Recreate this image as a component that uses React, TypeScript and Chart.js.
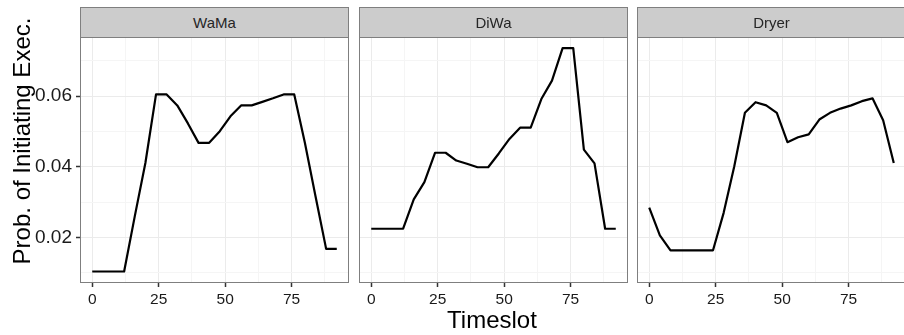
import React, { useEffect, useRef } from "react";
import { Chart, registerables } from "chart.js";

Chart.register(...registerables);

// ---- data ----
const timeslots = [0, 4, 8, 12, 16, 20, 24, 28, 32, 36, 40, 44, 48, 52, 56, 60, 64, 68, 72, 76, 80, 84, 88, 92];
const facetNames = ["WaMa", "DiWa", "Dryer"];
const wamaValues = [0.0104, 0.0104, 0.0104, 0.0104, 0.026, 0.0411, 0.0605, 0.0605, 0.0574, 0.0523, 0.0468, 0.0468, 0.0501, 0.0543, 0.0574, 0.0574, 0.0584, 0.0594, 0.0605, 0.0605, 0.0468, 0.0317, 0.0168, 0.0168];
const diwaValues = [0.0225, 0.0225, 0.0225, 0.0225, 0.0308, 0.0357, 0.044, 0.044, 0.0418, 0.0409, 0.0399, 0.0399, 0.0438, 0.0479, 0.0511, 0.0511, 0.0592, 0.0644, 0.0736, 0.0736, 0.0449, 0.041, 0.0225, 0.0225];
const dryerValues = [0.0285, 0.0206, 0.0164, 0.0164, 0.0164, 0.0164, 0.0164, 0.027, 0.0402, 0.0553, 0.0583, 0.0574, 0.0553, 0.047, 0.0484, 0.0492, 0.0534, 0.0553, 0.0565, 0.0574, 0.0586, 0.0594, 0.0532, 0.0411];
const xMajorTicks = [0, 25, 50, 75];
const xMinorTicks = [12.5, 37.5, 62.5, 87.5];
const yMajorTicks = [0.02, 0.04, 0.06];
const yMinorTicks = [0.01, 0.03, 0.05, 0.07];
const yTickLabels = ["0.02", "0.04", "0.06"];
const xTitle = "Timeslot";
const yTitle = "Prob. of Initiating Exec.";

const X_MIN = -4.6;
const X_MAX = 96.6;
const Y_MIN = 0.00715;
const Y_MAX = 0.07675;

const FONT = '"Liberation Sans", Arial, Helvetica, sans-serif';
const BORDER = "#7F7F7F";

const near = (a: number, list: number[]) => list.some((v) => Math.abs(v - a) < 1e-9);

const panelBox = {
  id: "panelBox",
  afterDraw(chart: any) {
    const { ctx, chartArea } = chart;
    ctx.save();
    ctx.strokeStyle = BORDER;
    ctx.lineWidth = 1;
    ctx.strokeRect(chartArea.left + 0.5, chartArea.top + 0.5, chartArea.right - chartArea.left - 1, chartArea.bottom - chartArea.top - 1);
    ctx.restore();
  },
};

function Panel(props: { left: number; width: number; values: number[]; showY: boolean; padLeft: number; padRight: number }) {
  const ref = useRef<HTMLCanvasElement>(null);
  useEffect(() => {
    const { values, showY, padLeft, padRight } = props;
    const chart = new Chart(ref.current!, {
      type: "line",
      data: {
        datasets: [
          {
            data: timeslots.map((t, i) => ({ x: t, y: values[i] })),
            borderColor: "#000000",
            borderWidth: 2.2,
            pointRadius: 0,
            tension: 0,
            borderJoinStyle: "round",
            borderCapStyle: "butt",
            fill: false,
          },
        ],
      },
      options: {
        animation: false,
        responsive: false,
        maintainAspectRatio: false,
        events: [],
        layout: { padding: { left: padLeft, right: padRight, top: 37, bottom: 0 } },
        plugins: { legend: { display: false }, tooltip: { enabled: false }, title: { display: false } },
        scales: {
          x: {
            type: "linear",
            min: X_MIN,
            max: X_MAX,
            afterBuildTicks: (s: any) => {
              s.ticks = [...xMajorTicks, ...xMinorTicks].sort((a, b) => a - b).map((v) => ({ value: v }));
            },
            afterFit: (s: any) => {
              s.height = 52;
            },
            ticks: {
              autoSkip: false,
              maxRotation: 0,
              padding: 3,
              color: "#1a1a1a",
              font: { family: FONT, size: 15.5 },
              callback: (v: any) => (near(Number(v), xMajorTicks) ? String(v) : ""),
            },
            grid: {
              color: (c: any) => (near(c.tick?.value, xMajorTicks) ? "#EBEBEB" : "#F5F5F5"),
              lineWidth: 1,
              tickLength: 4,
              tickWidth: 1.5,
              tickColor: (c: any) => (near(c.tick?.value, xMajorTicks) ? "#333333" : "rgba(0,0,0,0)"),
            },
            border: { display: false },
          },
          y: {
            type: "linear",
            min: Y_MIN,
            max: Y_MAX,
            afterBuildTicks: (s: any) => {
              s.ticks = [...yMajorTicks, ...yMinorTicks].sort((a, b) => a - b).map((v) => ({ value: v }));
            },
            afterFit: (s: any) => {
              s.width = showY ? 80 : 0;
            },
            ticks: {
              display: showY,
              autoSkip: false,
              padding: 4,
              color: "#1a1a1a",
              font: { family: FONT, size: 19 },
              callback: (v: any) => {
                const idx = yMajorTicks.findIndex((m) => Math.abs(m - Number(v)) < 1e-9);
                return idx >= 0 ? yTickLabels[idx] : "";
              },
            },
            grid: {
              color: (c: any) => (near(c.tick?.value, yMajorTicks) ? "#EBEBEB" : "#F5F5F5"),
              lineWidth: 1,
              drawTicks: showY,
              tickLength: 4,
              tickWidth: 1.5,
              tickColor: (c: any) => (near(c.tick?.value, yMajorTicks) ? "#333333" : "rgba(0,0,0,0)"),
            },
            border: { display: false },
          },
        },
      },
      plugins: [panelBox],
    } as any);
    return () => chart.destroy();
  }, []);
  return (
    <canvas
      ref={ref}
      width={props.width}
      height={335}
      style={{ position: "absolute", left: props.left, top: 0, width: props.width, height: 335 }}
    />
  );
}

const panels = [
  { left: 0, width: 350, values: wamaValues, showY: true, padLeft: 0, padRight: 1, areaLeft: 80, areaWidth: 269 },
  { left: 358, width: 271, values: diwaValues, showY: false, padLeft: 1, padRight: 1, areaLeft: 359, areaWidth: 269 },
  { left: 636, width: 271, values: dryerValues, showY: false, padLeft: 1, padRight: 1, areaLeft: 637, areaWidth: 269 },
];

export default function App() {
  return (
    <div
      style={{
        position: "absolute",
        left: 0,
        top: 0,
        width: 904,
        height: 335,
        overflow: "hidden",
        background: "#ffffff",
        fontFamily: FONT,
      }}
    >
      {panels.map((p, i) => (
        <Panel key={i} left={p.left} width={p.width} values={p.values} showY={p.showY} padLeft={p.padLeft} padRight={p.padRight} />
      ))}
      {panels.map((p, i) => (
        <div
          key={"s" + i}
          style={{
            position: "absolute",
            left: p.areaLeft,
            top: 7,
            width: p.areaWidth,
            height: 31,
            boxSizing: "border-box",
            background: "#CCCCCC",
            border: `1px solid ${BORDER}`,
            color: "#262626",
            fontSize: 15,
            lineHeight: "29px",
            textAlign: "center",
          }}
        >
          {facetNames[i]}
        </div>
      ))}
      <div
        style={{
          position: "absolute",
          left: 392,
          top: 305,
          width: 200,
          height: 30,
          lineHeight: "30px",
          fontSize: 24,
          textAlign: "center",
          color: "#000",
          whiteSpace: "nowrap",
        }}
      >
        {xTitle}
      </div>
      <div
        style={{
          position: "absolute",
          left: -128,
          top: 125.5,
          width: 300,
          height: 30,
          lineHeight: "30px",
          fontSize: 24,
          textAlign: "center",
          color: "#000",
          whiteSpace: "nowrap",
          transform: "rotate(-90deg)",
        }}
      >
        {yTitle}
      </div>
    </div>
  );
}
